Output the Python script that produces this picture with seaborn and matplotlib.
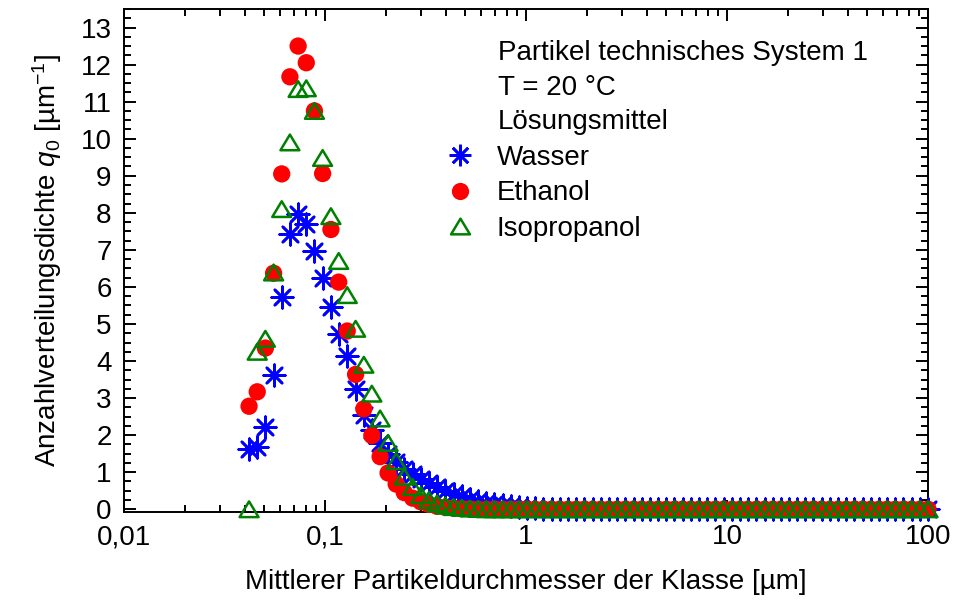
import matplotlib
matplotlib.use("Agg")
import matplotlib.pyplot as plt
from matplotlib.markers import MarkerStyle
from matplotlib.path import Path
from matplotlib.lines import Line2D
from matplotlib.ticker import FixedLocator, FuncFormatter, MultipleLocator, NullFormatter
import pandas as pd
import seaborn as sns

# Class mean diameters in µm (log-spaced classes)
diameter_um = [
    0.0419, 0.0460, 0.0505, 0.0555, 0.0609, 0.0669, 0.0735, 0.0807, 0.0886, 0.0973,
    0.107, 0.117, 0.129, 0.142, 0.156, 0.171, 0.188, 0.206, 0.226, 0.248,
    0.273, 0.300, 0.329, 0.361, 0.397, 0.436, 0.479, 0.526, 0.578, 0.634,
    0.697, 0.765, 0.840, 0.923, 1.01, 1.11, 1.22, 1.34, 1.47, 1.62,
    1.78, 1.95, 2.15, 2.36, 2.59, 2.84, 3.12, 3.43, 3.76, 4.13,
    4.54, 4.99, 5.48, 6.01, 6.60, 7.25, 7.97, 8.75, 9.61, 10.6,
    11.6, 12.7, 14.0, 15.4, 16.9, 18.5, 20.3, 22.3, 24.5, 26.9,
    29.6, 32.5, 35.7, 39.2, 43.0, 47.3, 51.9, 57.0, 62.6, 68.8,
    75.5, 82.9, 91.1, 100.0,
]

# Number density q0 in 1/µm for each solvent
wasser = [
    1.62, 1.67, 2.22, 3.62, 5.74, 7.42, 7.98, 7.69, 6.97, 6.23,
    5.47, 4.73, 4.13, 3.25, 2.55, 2.15, 1.78, 1.50, 1.28, 1.10,
    0.95, 0.82, 0.70, 0.60, 0.50, 0.42, 0.35, 0.29, 0.23, 0.18,
    0.14, 0.11, 0.08, 0.06, 0.04, 0.03, 0.02, 0.02, 0.01, 0.01,
    0, 0, 0, 0, 0, 0, 0, 0, 0, 0,
    0, 0, 0, 0, 0, 0, 0, 0, 0, 0,
    0, 0, 0, 0, 0, 0, 0, 0, 0, 0,
    0, 0, 0, 0, 0, 0, 0, 0, 0, 0,
    0, 0, 0, 0,
]
ethanol = [
    2.78, 3.17, 4.35, 6.37, 9.05, 11.67, 12.50, 12.05, 10.75, 9.06,
    7.55, 6.13, 4.81, 3.64, 2.71, 1.99, 1.42, 0.98, 0.68, 0.45,
    0.30, 0.20, 0.13, 0.08, 0.05, 0.03, 0.02, 0.01, 0, 0,
    0, 0, 0, 0, 0, 0, 0, 0, 0, 0,
    0, 0, 0, 0, 0, 0, 0, 0, 0, 0,
    0, 0, 0, 0, 0, 0, 0, 0, 0, 0,
    0, 0, 0, 0, 0, 0, 0, 0, 0, 0,
    0, 0, 0, 0, 0, 0, 0, 0, 0, 0,
    0, 0, 0, 0,
]
isopropanol = [
    0.0, 4.25, 4.60, 6.39, 8.10, 9.90, 11.34, 11.36, 10.75, 9.48,
    7.91, 6.70, 5.78, 4.87, 3.90, 3.12, 2.45, 1.79, 1.30, 0.88,
    0.60, 0.38, 0.25, 0.16, 0.10, 0.06, 0.04, 0.02, 0.01, 0,
    0, 0, 0, 0, 0, 0, 0, 0, 0, 0,
    0, 0, 0, 0, 0, 0, 0, 0, 0, 0,
    0, 0, 0, 0, 0, 0, 0, 0, 0, 0,
    0, 0, 0, 0, 0, 0, 0, 0, 0, 0,
    0, 0, 0, 0, 0, 0, 0, 0, 0, 0,
    0, 0, 0, 0,
]

solvents = ["Wasser", "Ethanol", "Isopropanol"]
info_lines = ["Partikel technisches System 1", "T = 20 °C", "Lösungsmittel"]
x_ticks = [0.01, 0.1, 1, 10, 100]
x_tick_labels = ["0,01", "0,1", "1", "10", "100"]

sns.set_theme(style="ticks")
plt.rcParams["font.family"] = ["Liberation Sans", "DejaVu Sans"]
plt.rcParams["mathtext.fontset"] = "custom"
plt.rcParams["mathtext.rm"] = "Liberation Sans"
plt.rcParams["mathtext.it"] = "Liberation Sans:italic"
plt.rcParams["mathtext.default"] = "regular"
plt.rcParams["text.color"] = "black"
plt.rcParams["axes.labelcolor"] = "black"
plt.rcParams["xtick.color"] = "black"
plt.rcParams["ytick.color"] = "black"

FS = 20

fig = plt.figure(figsize=(9.55, 6.04), dpi=100)
ax = fig.add_axes([124 / 955, 1 - 511.5 / 604, (928 - 124) / 955, (511.5 - 9) / 604])

# Marker styles
asterisk = MarkerStyle((8, 2, 0))
triangle = MarkerStyle(
    Path([(-1, -0.83), (1, -0.83), (0, 0.83), (0, 0)], closed=True),
    joinstyle="miter",
)

styles = {
    "Wasser": dict(marker=asterisk, color="#0000ff", s=240, linewidth=1.9),
    "Ethanol": dict(marker="o", color="#ff0000", s=155, linewidth=0, edgecolor="none"),
    "Isopropanol": dict(marker=triangle, facecolor="none", edgecolor="#008000", s=185, linewidth=1.8),
}

data = pd.DataFrame({"d": diameter_um, "Wasser": wasser,
                     "Ethanol": ethanol, "Isopropanol": isopropanol})

for i, name in enumerate(solvents):
    sns.scatterplot(data=data, x="d", y=name, ax=ax, clip_on=False,
                    zorder=3 + i, legend=False, **styles[name])

ax.set_xscale("log")
ax.set_xlim(0.01, 100)
ax.set_ylim(-0.06, 13.5)

ax.xaxis.set_major_locator(FixedLocator(x_ticks))
ax.xaxis.set_major_formatter(FuncFormatter(
    lambda v, p: x_tick_labels[x_ticks.index(v)] if v in x_ticks else ""))
minor_x = [m * 10.0 ** e for e in range(-2, 2) for m in range(2, 10)]
ax.xaxis.set_minor_locator(FixedLocator(minor_x))
ax.xaxis.set_minor_formatter(NullFormatter())
ax.yaxis.set_major_locator(MultipleLocator(1))
ax.yaxis.set_minor_locator(MultipleLocator(0.25))

for side in ["left", "right", "top", "bottom"]:
    ax.spines[side].set_visible(True)
    ax.spines[side].set_linewidth(1.4)
    ax.spines[side].set_color("black")

ax.tick_params(which="both", direction="in", top=True, right=True,
               color="black", width=1.4, labelsize=FS, labelcolor="black")
ax.tick_params(which="major", length=8.5)
ax.tick_params(which="minor", length=5)
ax.tick_params(axis="x", which="major", pad=9)
ax.tick_params(axis="y", which="major", pad=9)

ax.set_xlabel("Mittlerer Partikeldurchmesser der Klasse [µm]", fontsize=FS,
              labelpad=14, color="black")
ax.set_ylabel("Anzahlverteilungsdichte $\\mathit{q}_{0}$ [µm$^{-1}$]", fontsize=FS,
              labelpad=12, color="black")

# Info block above the legend
info_y = [0.912, 0.842, 0.776]
for txt, yy in zip(info_lines, info_y):
    ax.text(0.465, yy, txt, transform=ax.transAxes, fontsize=FS,
            ha="left", va="center", color="black")

handles = [
    Line2D([], [], linestyle="none", marker=asterisk, color="#0000ff",
           markersize=15.5, markeredgewidth=1.9),
    Line2D([], [], linestyle="none", marker="o", color="#ff0000",
           markersize=12.4, markeredgewidth=0),
    Line2D([], [], linestyle="none", marker=triangle, markerfacecolor="none",
           markeredgecolor="#008000", markersize=13.6, markeredgewidth=1.8),
]
leg = ax.legend(handles, solvents, loc="upper left", bbox_to_anchor=(0.4005, 0.729),
                frameon=False, fontsize=FS, handlelength=1.0, handletextpad=0.83,
                labelspacing=0.33, borderpad=0, borderaxespad=0)
for t in leg.get_texts():
    t.set_color("black")

fig.savefig("out.png", dpi=100)
